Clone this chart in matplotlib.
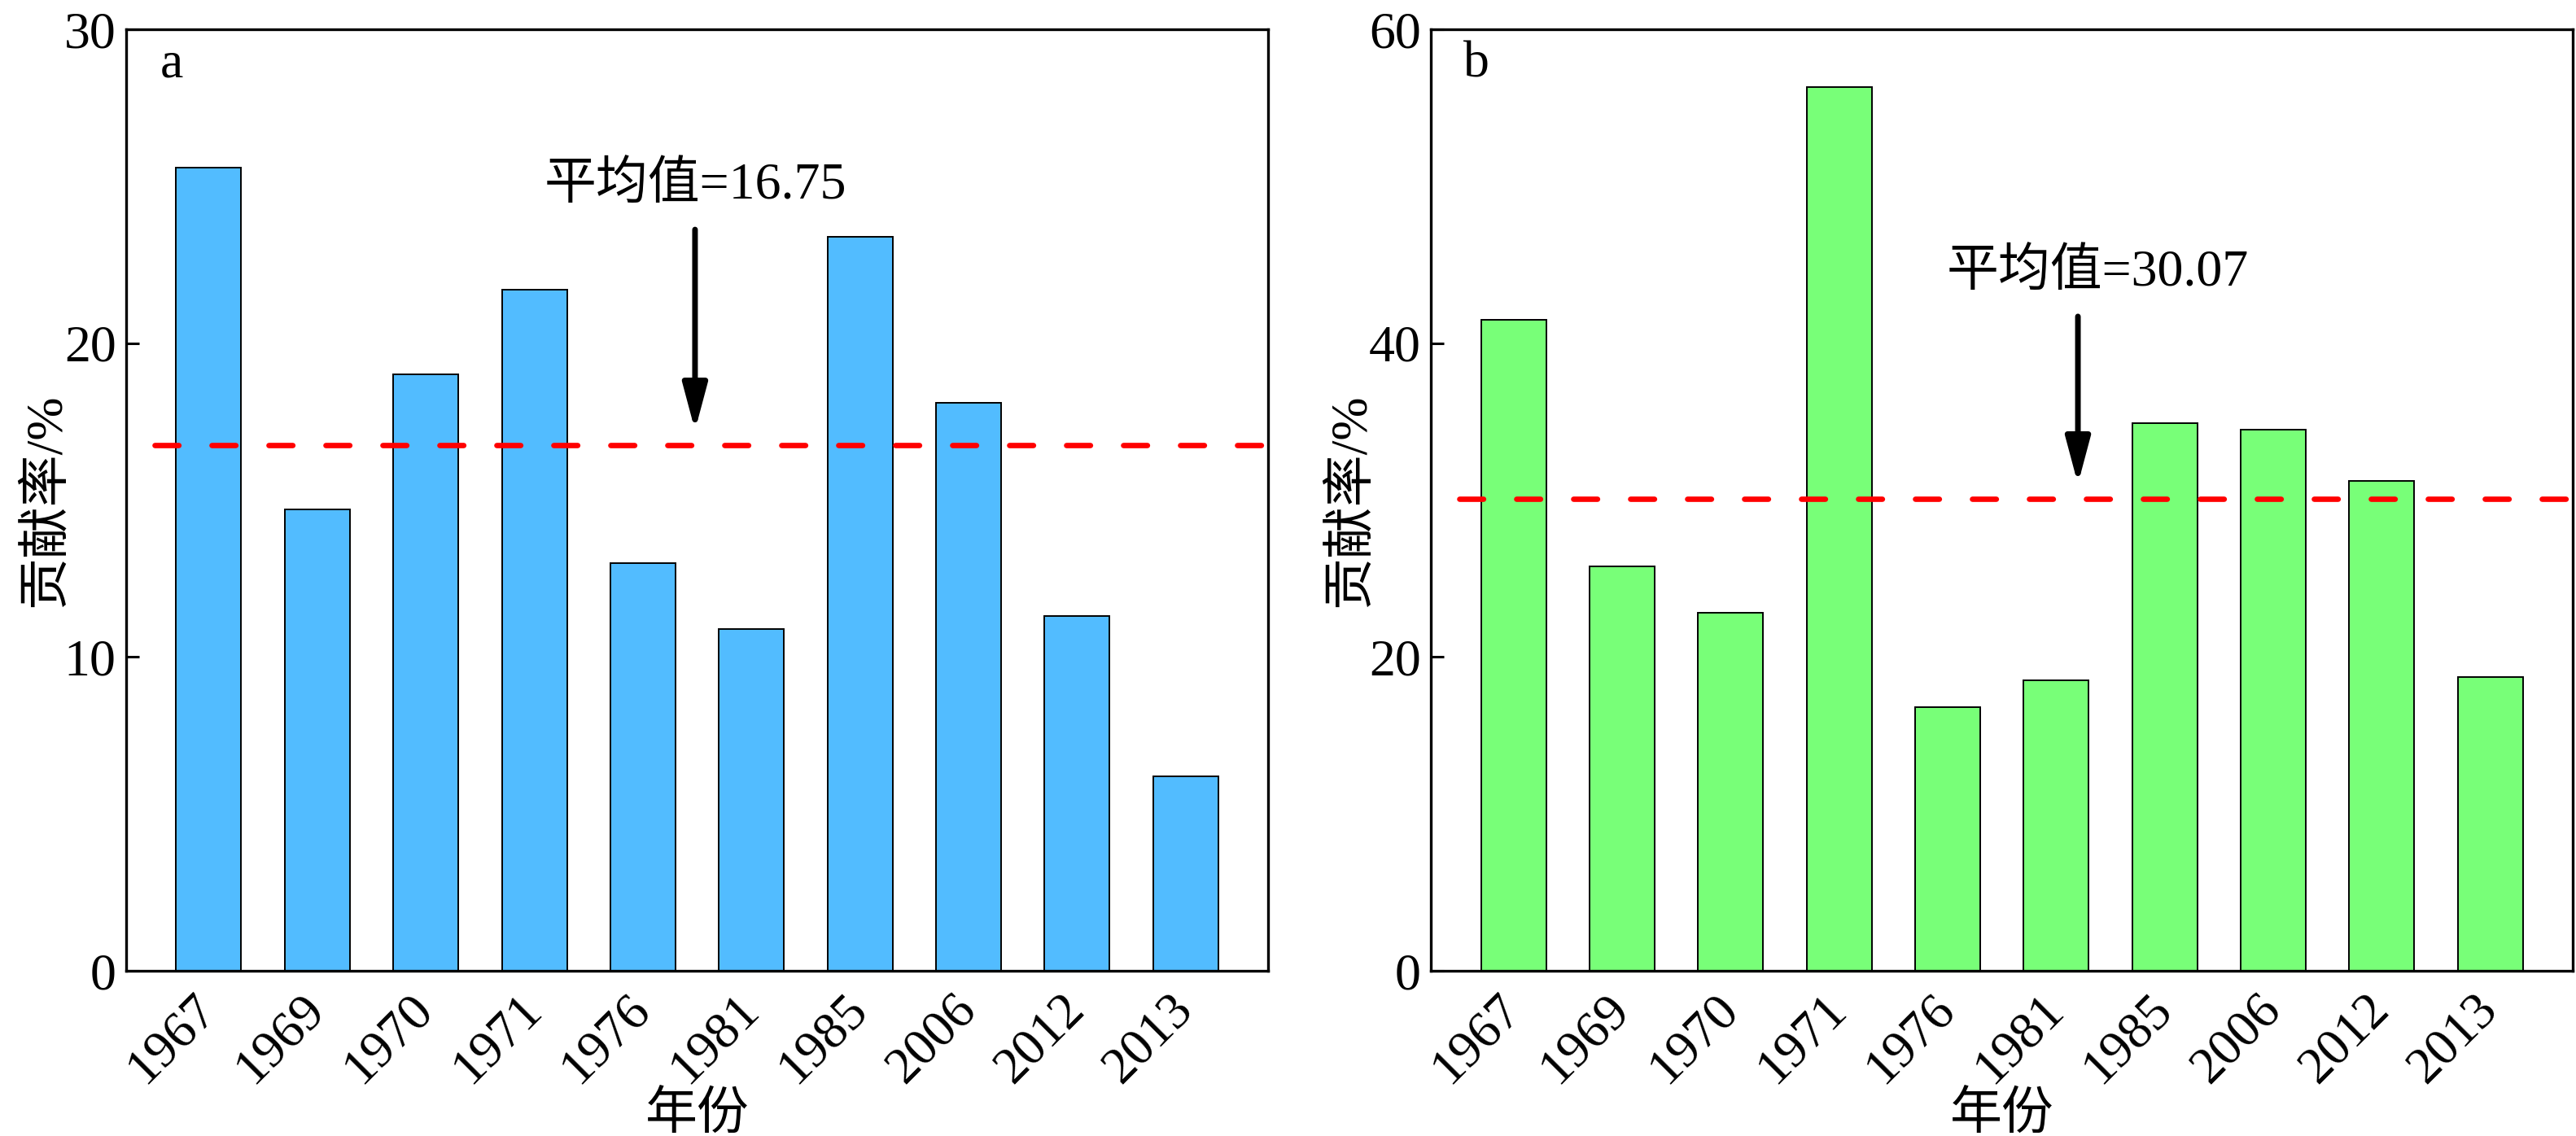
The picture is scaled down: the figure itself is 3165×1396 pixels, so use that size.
import numpy as np
import matplotlib.pyplot as plt

plt.rcParams['font.family'] = ['Liberation Serif', 'Noto Sans CJK SC']
plt.rcParams['font.size'] = 23
plt.rcParams['axes.unicode_minus'] = False

years = ['1967', '1969', '1970', '1971', '1976', '1981', '1985', '2006', '2012', '2013']
rate_a = [25.6, 14.7, 19.0, 21.7, 13.0, 10.9, 23.4, 18.1, 11.3, 6.2]
rate_b = [41.5, 25.8, 22.8, 56.3, 16.8, 18.5, 34.9, 34.5, 31.2, 18.7]
mean_a = 16.75
mean_b = 30.07

panels = [
    # label, values, mean, color, ymax, arrow x, arrow top, arrow tip, text x, text y
    ('a', rate_a, mean_a, '#52BCFF', 30, 4.48, 23.62, 17.22, 4.48, 25.0),
    ('b', rate_b, mean_b, '#78FF78', 60, 5.20, 41.7, 31.02, 5.38, 44.4),
]

fig = plt.figure(figsize=(15.825, 6.98), dpi=200)
lefts = [0.0490, 0.5555]

for left, (lab, vals, mean, color, ymax, ax_x, ay0, ay1, tx, ty) in zip(lefts, panels):
    ax = fig.add_axes([left, 0.1454, 0.4433, 0.8288])
    x = np.arange(len(years))
    ax.bar(x, vals, width=0.6, color=color, edgecolor='black', linewidth=0.7, zorder=2)
    ax.hlines(mean, -0.5, 10, colors='red', linewidth=2.4,
              linestyles=(0, (4.4, 6.1)), capstyle='round', zorder=3)
    ax.annotate('', xy=(ax_x, ay1), xytext=(ax_x, ay0),
                arrowprops=dict(arrowstyle='-|>,head_length=0.75,head_width=0.2',
                                color='black', lw=2.5, shrinkA=0, shrinkB=0), zorder=4)
    ax.text(tx, ty, '平均值=%.2f' % mean, ha='center', va='center', fontsize=23)
    ax.text(0.04, 0.962, lab, transform=ax.transAxes, ha='center', va='center', fontsize=23)

    ax.set_xlim(-0.76, 9.76)
    ax.set_ylim(0, ymax)
    ax.set_yticks(np.linspace(0, ymax, 4))
    ax.set_xticks(x)
    ax.set_xticklabels(years, rotation=45, ha='right', va='center', rotation_mode='anchor')
    ax.tick_params(axis='both', direction='in', length=5.8, width=1.1, labelsize=23)
    ax.tick_params(axis='x', pad=14)
    ax.tick_params(axis='y', pad=4.5)
    ax.tick_params(top=False, right=False)
    for sp in ax.spines.values():
        sp.set_linewidth(1.2)
    ax.set_xlabel('年份', fontsize=23, labelpad=0)
    ax.set_ylabel('贡献率/%', fontsize=23, labelpad=-3)

fig.savefig('out.png', dpi=200)
plt.close(fig)
